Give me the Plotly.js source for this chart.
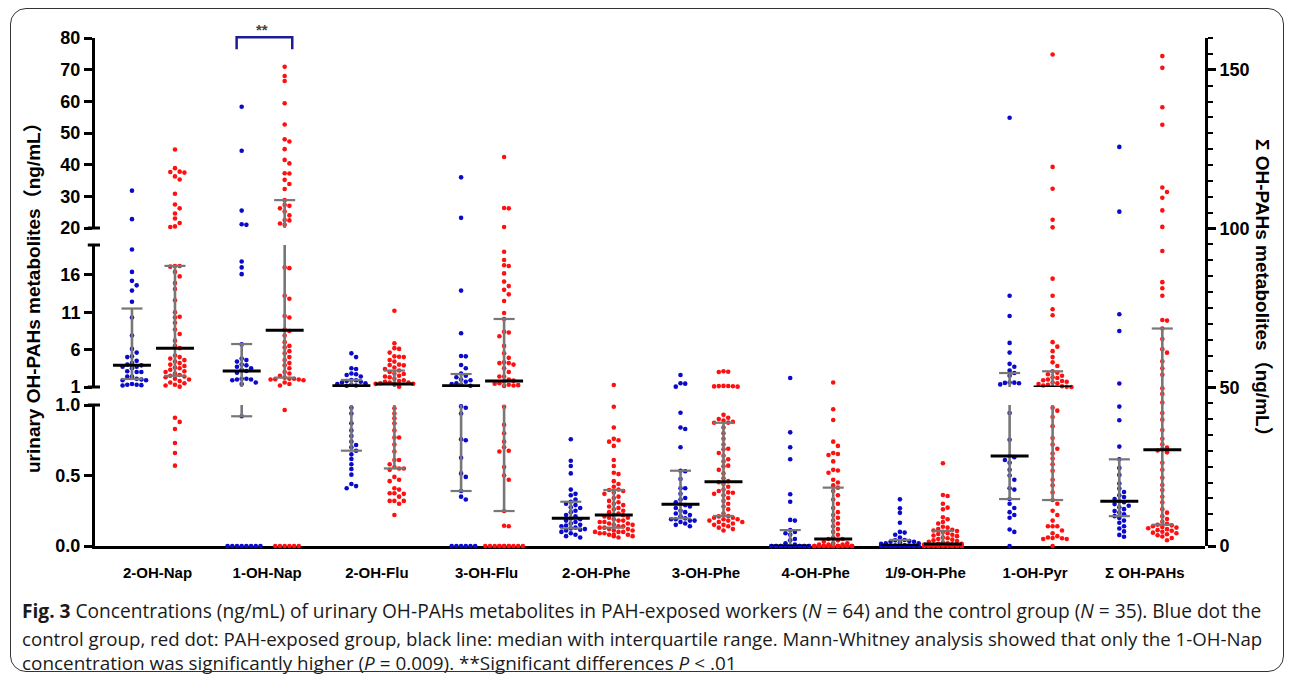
<!DOCTYPE html>
<html><head><meta charset="utf-8">
<script src="https://cdn.plot.ly/plotly-3.0.1.min.js"></script>
<style>
html,body{margin:0;padding:0;background:#fff;}
#wrap{position:relative;width:1290px;height:679px;overflow:hidden;background:#fff;}
#chart{position:absolute;left:0;top:0;width:1290px;height:679px;}
#frame{position:absolute;left:10px;top:8px;width:1274px;height:664px;border:1.5px solid #333;border-radius:16px;pointer-events:none;box-sizing:border-box;}
</style></head>
<body><div id="wrap"><div id="chart"></div><div id="frame"></div></div>
<script>
// ---------------- DATA (ng/mL) ----------------
const categories = ['2-OH-Nap','1-OH-Nap','2-OH-Flu','3-OH-Flu','2-OH-Phe','3-OH-Phe','4-OH-Phe','1/9-OH-Phe','1-OH-Pyr','Σ OH-PAHs'];

// control group (N = 35)
const nap2_ctrl = [31.8,22.8,19.4,16.4,15.2,14.6,13.9,12.4,10.3,7.9,6.1,5.6,5.1,5.0,4.5,4.2,4.0,3.9,3.7,3.7,3.5,3.1,3.0,3.0,2.4,2.4,2.1,2.0,1.9,1.9,1.4,1.3,1.3,1.25,1.2];
const nap1_ctrl = [58.3,44.4,25.5,21.2,21.0,17.8,17.0,16.1,6.7,4.8,4.6,4.4,4.0,3.9,3.7,3.5,3.3,3.14,2.9,2.1,2.1,2.0,2.0,1.9,1.6,1.4,0.92,0,0,0,0,0,0,0,0];
const flu2_ctrl = [5.5,5.0,3.5,3.4,2.8,2.7,2.6,2.4,1.94,1.9,1.8,1.7,1.6,1.5,1.4,1.3,1.2,1.17,0.98,0.94,0.87,0.82,0.78,0.74,0.716,0.70,0.676,0.65,0.617,0.58,0.546,0.506,0.44,0.425,0.41];
const flu3_ctrl = [36.0,23.2,13.9,8.2,5.15,5.1,3.95,3.5,2.8,2.5,2.3,2.0,1.9,1.7,1.5,1.4,1.3,1.17,0.99,0.98,0.94,0.757,0.75,0.626,0.515,0.49,0.39,0.35,0.33,0,0,0,0,0,0];
const phe2_ctrl = [0.757,0.605,0.567,0.515,0.40,0.37,0.36,0.33,0.314,0.30,0.29,0.275,0.27,0.25,0.24,0.22,0.21,0.196,0.19,0.18,0.17,0.16,0.15,0.145,0.14,0.13,0.125,0.12,0.115,0.11,0.10,0.09,0.08,0.07,0.06];
const phe3_ctrl = [2.6,1.5,1.45,1.05,0.945,0.84,0.83,0.70,0.534,0.53,0.475,0.41,0.41,0.37,0.34,0.33,0.31,0.296,0.29,0.28,0.27,0.25,0.24,0.23,0.22,0.21,0.196,0.19,0.19,0.18,0.18,0.17,0.16,0.15,0.14];
const phe4_ctrl = [2.2,0.806,0.70,0.615,0.367,0.314,0.185,0.18,0.113,0.10,0.09,0.08,0.05,0.04,0.02,0.01,0,0,0,0,0,0,0,0,0,0,0,0,0,0,0,0,0,0,0];
const phe19_ctrl = [0.331,0.267,0.235,0.165,0.10,0.095,0.08,0.06,0.043,0.04,0.035,0.03,0.03,0.025,0.02,0.02,0.015,0.005,0.004,0.003,0.002,0,0,0,0,0,0,0,0,0,0,0,0,0,0];
const pyr1_ctrl = [54.8,13.2,10.5,6.9,5.6,4.1,3.7,3.2,2.87,2.5,1.6,1.58,1.55,1.5,1.35,0.943,0.754,0.638,0.63,0.61,0.59,0.54,0.50,0.47,0.41,0.40,0.333,0.30,0.27,0.24,0.22,0.20,0.117,0.10,0];
const sum_ctrl = [125.7,105.3,73.0,67.7,51.2,43.9,39.6,31.3,27.3,24.6,22.4,19.7,18.1,17.0,16.0,15.4,14.8,14.1,13.8,13.2,12.7,12.2,11.6,11.0,10.5,10.0,9.4,8.8,8.0,7.3,6.2,5.5,4.6,3.5,2.9];

// PAH-exposed group (N = 64)
const nap2_exp = [44.8,38.9,37.8,37.7,37.5,36.3,35.3,30.8,27.4,26.2,24.6,23.0,21.6,20.5,20.3,17.2,17.2,17.1,16.4,15.8,14.9,14.1,12.6,11.0,10.4,10.3,9.6,8.7,8.1,7.2,6.5,6.2,5.2,5.0,4.8,4.6,4.4,4.2,4.0,3.8,3.6,3.5,3.3,3.1,3.0,2.8,2.6,2.5,2.4,2.3,2.1,2.0,1.8,1.6,1.5,1.3,1.2,1.05,0.91,0.88,0.83,0.73,0.66,0.57];
const nap1_exp = [70.9,68.0,66.4,59.4,52.7,48.0,47.3,44.9,41.5,40.4,37.3,37.2,35.2,33.9,32.3,28.8,27.3,27.0,26.2,25.2,24.0,22.5,22.4,21.4,21.0,17.0,16.9,13.2,12.8,10.5,10.3,8.7,8.5,7.9,7.0,6.5,6.3,5.8,5.5,5.0,4.6,4.2,3.9,3.5,3.0,2.8,2.5,2.25,2.1,2.1,2.05,2.0,2.0,1.9,1.6,1.4,1.2,0.965,0,0,0,0,0,0];
const flu2_exp = [11.2,6.85,6.2,6.1,5.6,5.1,5.05,5.0,4.6,4.4,4.0,3.95,3.9,3.6,3.4,3.2,3.0,2.8,2.74,2.5,2.4,2.3,2.1,1.9,1.8,1.7,1.6,1.58,1.5,1.45,1.43,1.42,1.38,1.05,0.977,0.94,0.906,0.87,0.82,0.77,0.77,0.72,0.67,0.61,0.61,0.58,0.56,0.55,0.55,0.54,0.49,0.47,0.46,0.41,0.40,0.374,0.374,0.37,0.35,0.32,0.32,0.32,0.30,0.22];
const flu3_exp = [42.4,26.3,26.2,20.3,19.1,18.0,17.3,17.2,16.2,15.1,14.5,14.0,13.4,12.5,10.9,10.1,8.4,8.3,7.8,6.5,5.5,4.9,4.3,4.2,4.2,4.0,3.5,3.0,2.4,2.4,2.0,1.85,1.75,1.5,1.45,1.3,1.25,1.2,1.13,0.988,0.86,0.80,0.74,0.70,0.676,0.67,0.56,0.50,0.47,0.248,0.144,0.14,0,0,0,0,0,0,0,0,0,0,0,0];
const phe2_exp = [1.27,0.988,0.84,0.76,0.75,0.74,0.71,0.61,0.567,0.52,0.51,0.46,0.44,0.42,0.40,0.397,0.39,0.38,0.37,0.35,0.34,0.32,0.31,0.30,0.29,0.28,0.27,0.26,0.25,0.24,0.23,0.222,0.218,0.21,0.20,0.20,0.19,0.18,0.18,0.17,0.17,0.16,0.16,0.15,0.15,0.14,0.14,0.13,0.13,0.12,0.12,0.11,0.11,0.10,0.10,0.10,0.09,0.09,0.08,0.08,0.08,0.07,0.07,0.06];
const phe3_exp = [3.1,3.05,3.0,1.15,1.13,1.12,1.1,1.08,1.05,0.93,0.91,0.90,0.89,0.88,0.875,0.874,0.84,0.80,0.76,0.72,0.69,0.686,0.66,0.64,0.615,0.60,0.57,0.565,0.54,0.515,0.48,0.46,0.452,0.44,0.42,0.40,0.39,0.38,0.378,0.37,0.36,0.34,0.32,0.30,0.28,0.26,0.23,0.213,0.21,0.20,0.20,0.19,0.19,0.18,0.18,0.17,0.17,0.16,0.15,0.15,0.14,0.13,0.12,0.11];
const phe4_exp = [1.6,0.97,0.894,0.74,0.71,0.66,0.652,0.645,0.60,0.54,0.535,0.52,0.47,0.45,0.43,0.414,0.39,0.36,0.33,0.30,0.27,0.24,0.22,0.20,0.18,0.16,0.14,0.12,0.10,0.08,0.06,0.05,0.05,0.04,0.03,0.02,0.02,0.01,0.01,0.01,0,0,0,0,0,0,0,0,0,0,0,0,0,0,0,0,0,0,0,0,0,0,0,0];
const phe19_exp = [0.587,0.362,0.355,0.30,0.272,0.26,0.204,0.19,0.17,0.16,0.137,0.13,0.12,0.115,0.11,0.106,0.10,0.09,0.085,0.08,0.075,0.07,0.06,0.055,0.05,0.045,0.04,0.035,0.03,0.025,0.02,0.015,0.015,0.012,0.01,0.01,0.01,0.008,0.008,0.006,0.005,0.005,0.004,0.003,0.002,0.002,0.001,0,0,0,0,0,0,0,0,0,0,0,0,0,0,0,0,0];
const pyr1_exp = [74.8,39.3,32.4,22.6,20.2,15.5,13.2,11.4,10.6,7.0,6.4,5.8,5.0,4.3,3.8,3.1,2.9,2.7,2.5,2.3,2.2,2.0,1.9,1.8,1.7,1.6,1.5,1.4,1.3,1.2,1.1,1.03,1.0,0.98,0.96,0.915,0.85,0.766,0.72,0.69,0.656,0.62,0.58,0.533,0.47,0.43,0.38,0.326,0.30,0.25,0.22,0.18,0.14,0.14,0.14,0.11,0.09,0.07,0.06,0.057,0.055,0.05,0.05,0];
const sum_exp = [154.3,150.6,138.2,132.7,112.9,111.5,109.7,105.7,100.5,92.9,83.1,81.2,78.8,71.2,71.0,68.5,65.2,62.0,60.9,58.2,56.0,53.9,49.7,47.9,45.2,41.9,39.8,36.5,33.8,32.0,31.0,30.5,30.1,29.5,26.2,24.0,21.5,19.2,17.6,15.5,13.8,11.6,10.5,9.4,8.5,7.6,7.0,6.7,6.5,6.2,6.0,5.8,5.6,5.3,5.0,4.8,4.5,4.2,4.0,3.7,3.4,3.0,2.5,1.8];

// median with interquartile range as drawn in the figure
const ctrlMedian = [3.9,3.14,1.17,1.17,0.196,0.296,0,0.005,0.638,14.1];
const ctrlQ1     = [2.07,0.92,0.676,0.39,0.125,0.196,0,0,0.333,9.4];
const ctrlQ3     = [11.5,6.75,1.94,2.74,0.314,0.534,0.113,0.043,2.87,27.3];
const expMedian  = [6.2,8.6,1.4,1.8,0.22,0.456,0.05,0.015,1.0,30.3];
const expQ1      = [2.5,2.25,0.55,0.248,0.13,0.213,0,0,0.326,6.7];
const expQ3      = [17.2,28.8,3.2,10.1,0.397,0.874,0.414,0.106,3.1,68.5];

// tick labels
const bottomTicks = [0,0.5,1.0], bottomTickText = ['0.0','0.5','1.0'];
const middleTicks = [1,6,11,16];
const topTicks = [20,30,40,50,60,70,80];

// ---------------- LAYOUT CONSTANTS ----------------
const W=1290,H=679,ML=95,MR=85,MT=38,MB=133;
const PW=W-ML-MR, PH=H-MT-MB;
const XR=[-0.533,9.585];
const PXU = PW/(XR[1]-XR[0]);
const OFF=0.196, MEDHW=0.173, CAPHW=0.096;
const BLUE='#0a0acc', RED='#ff1010', GRAY='#777777';
const segs=[
  {ax:'y', lo:0, hi:1, d:[0,141/PH]},
  {ax:'y2',lo:1, hi:20,d:[159/PH,301/PH]},
  {ax:'y3',lo:20,hi:80,d:[318/PH,1]}
];
const rseg={ax:'y4',lo:0,hi:160,d:[0,1]};
function segOf(v,right){ if(right) return rseg; if(v>=20) return segs[2]; if(v>=1) return segs[1]; return segs[0]; }
function pyOf(v,s){ return MT+PH*(1-(s.d[0]+(v-s.lo)/(s.hi-s.lo)*(s.d[1]-s.d[0]))); }

const ctrlSets=[nap2_ctrl,nap1_ctrl,flu2_ctrl,flu3_ctrl,phe2_ctrl,phe3_ctrl,phe4_ctrl,phe19_ctrl,pyr1_ctrl,sum_ctrl];
const expSets=[nap2_exp,nap1_exp,flu2_exp,flu3_exp,phe2_exp,phe3_exp,phe4_exp,phe19_exp,pyr1_exp,sum_exp];

// beeswarm offsets (pixels) computed from value positions
const STEP=4.7,HIT=4.5,KMAX=4;
function swarm(pys){
  const idx=pys.map((p,i)=>i).sort((a,b)=>pys[a]-pys[b]);
  const order=[0]; for(let k=1;k<=KMAX;k++){order.push(k,-k);}
  const placed=[],dx=new Array(pys.length);
  for(const i of idx){
    let best=0,bh=1e9;
    for(const k of order){
      const x=k*STEP; let h=0;
      for(const p of placed){ if(Math.abs(p.y-pys[i])<HIT && Math.abs(p.x-x)<HIT) h++; }
      if(h===0){best=x;bh=0;break;}
      if(h<bh){bh=h;best=x;}
    }
    dx[i]=best; placed.push({x:best,y:pys[i]});
  }
  return dx;
}

const groups=[];
for(let i=0;i<categories.length;i++){
  groups.push({c:i,vals:ctrlSets[i],off:-OFF,color:BLUE,med:ctrlMedian[i],q1:ctrlQ1[i],q3:ctrlQ3[i],right:i===categories.length-1});
  groups.push({c:i,vals:expSets[i],off:OFF,color:RED,med:expMedian[i],q1:expQ1[i],q3:expQ3[i],right:i===categories.length-1});
}

const pts={};
const vline={},caps={},meds={};
function push(store,ax,xs,ys){ if(!store[ax]) store[ax]={x:[],y:[]}; store[ax].x.push(...xs,null); store[ax].y.push(...ys,null); }
groups.forEach(g=>{
  const xc=g.c+g.off;
  const ss=g.vals.map(v=>segOf(v,g.right));
  const pys=g.vals.map((v,k)=>pyOf(v,ss[k]));
  const dx=swarm(pys);
  g.vals.forEach((v,k)=>{
    const key=g.color+'|'+ss[k].ax;
    if(!pts[key]) pts[key]={x:[],y:[],color:g.color,ax:ss[k].ax};
    pts[key].x.push(xc+dx[k]/PXU); pts[key].y.push(v);
  });
  const list=g.right?[rseg]:segs;
  list.forEach(s=>{
    const lo=Math.max(g.q1,s.lo),hi=Math.min(g.q3,s.hi);
    if(hi>lo) push(vline,s.ax,[xc,xc],[lo,hi]);
  });
  [g.q1,g.q3].forEach(q=>{ if(q>0){ const s=segOf(q,g.right); push(caps,s.ax,[xc-CAPHW,xc+CAPHW],[q,q]); }});
  const sm=segOf(g.med,g.right); push(meds,sm.ax,[xc-MEDHW,xc+MEDHW],[g.med,g.med]);
});

const traces=[];
Object.values(pts).forEach(p=>traces.push({type:'scatter',mode:'markers',x:p.x,y:p.y,xaxis:'x',yaxis:p.ax,cliponaxis:false,hoverinfo:'skip',marker:{size:4.6,color:p.color,line:{width:0}}}));
const addLines=(store,color,width)=>Object.keys(store).forEach(ax=>traces.push({type:'scatter',mode:'lines',x:store[ax].x,y:store[ax].y,xaxis:'x',yaxis:ax,cliponaxis:false,hoverinfo:'skip',connectgaps:false,line:{color:color,width:width}}));
addLines(vline,GRAY,2.6);
addLines(caps,GRAY,2.2);
addLines(meds,'#000',3);

const FONT='"Liberation Sans", Arial, "Noto Sans CJK SC", sans-serif';
const tf={family:FONT,size:18,color:'#000',weight:700};
const ycommon={anchor:'x',showline:true,linewidth:3,linecolor:'#000',ticks:'outside',ticklen:8,tickwidth:3,tickcolor:'#000',tickfont:tf,showgrid:false,zeroline:false,fixedrange:true,tickmode:'array'};
const capFont=s=>({family:'"Open Sans", sans-serif',size:s,color:'#1a1a1a'});
const layout={
  width:W,height:H,autosize:false,showlegend:false,
  margin:{l:ML,r:MR,t:MT,b:MB,pad:0},
  paper_bgcolor:'#fff',plot_bgcolor:'rgba(0,0,0,0)',
  xaxis:{domain:[0,1],range:XR,anchor:'y',showline:true,linewidth:3,linecolor:'#000',ticks:'',tickmode:'array',tickvals:categories.map((c,i)=>i),ticktext:categories,tickfont:{family:FONT,size:15,color:'#000',weight:700},showgrid:false,zeroline:false,fixedrange:true,layer:'below traces',ticklabelshift:4,ticklabelstandoff:11},
  yaxis:Object.assign({},ycommon,{domain:segs[0].d,range:[0,1],tickvals:bottomTicks,ticktext:bottomTickText}),
  yaxis2:Object.assign({},ycommon,{domain:segs[1].d,range:[1,20],tickvals:middleTicks,ticktext:middleTicks.map(String)}),
  yaxis3:Object.assign({},ycommon,{domain:segs[2].d,range:[20,80],tickvals:topTicks,ticktext:topTicks.map(String)}),
  yaxis4:Object.assign({},ycommon,{domain:[0,1],range:[0,160],side:'right',tickmode:'linear',tick0:0,dtick:50,minor:{tickmode:'linear',tick0:0,dtick:5,ticks:'outside',ticklen:5,tickwidth:2,tickcolor:'#000'}}),
  shapes:[
    {type:'line',xref:'paper',yref:'paper',x0:-0.0065,x1:0.0045,y0:segs[0].d[1],y1:segs[0].d[1],line:{color:'#000',width:3}},
    {type:'line',xref:'paper',yref:'paper',x0:-0.0065,x1:0.0045,y0:segs[1].d[0],y1:segs[1].d[0],line:{color:'#000',width:3}},
    {type:'line',xref:'paper',yref:'paper',x0:-0.0065,x1:0.0045,y0:segs[1].d[1],y1:segs[1].d[1],line:{color:'#000',width:3}},
    {type:'line',xref:'paper',yref:'paper',x0:-0.0065,x1:0.0045,y0:segs[2].d[0],y1:segs[2].d[0],line:{color:'#000',width:3}},
    {type:'path',xref:'x',yref:'paper',path:'M 0.758 0.9778 L 0.758 1.0014 L 1.265 1.0014 L 1.265 0.9778',line:{color:'#1c1c96',width:2.5}}
  ],
  annotations:[
    {xref:'x',yref:'paper',x:0.986,y:1.016,text:'**',showarrow:false,font:{family:FONT,size:15,color:'#444',weight:700},xanchor:'center',yanchor:'middle'},
    {xref:'paper',yref:'paper',x:(33-ML)/PW,y:(MT+PH-293)/PH,text:'urinary OH-PAHs metabolites（ng/mL）',textangle:-90,showarrow:false,font:{family:FONT,size:19,color:'#000',weight:700},xanchor:'center',yanchor:'middle'},
    {xref:'paper',yref:'paper',x:(1263-ML)/PW,y:(MT+PH-292)/PH,text:'Σ OH-PAHs metabolites（ng/mL）',textangle:90,showarrow:false,font:{family:FONT,size:19,color:'#000',weight:700},xanchor:'center',yanchor:'middle'},
    {xref:'paper',yref:'paper',x:(20-ML)/PW,y:(MT+PH-611)/PH,xanchor:'left',yanchor:'middle',showarrow:false,align:'left',font:capFont(19.15),
     text:'<b>Fig. 3</b> Concentrations (ng/mL) of urinary OH-PAHs metabolites in PAH-exposed workers (<i>N</i> = 64) and the control group (<i>N</i> = 35). Blue dot the'},
    {xref:'paper',yref:'paper',x:(20-ML)/PW,y:(MT+PH-638)/PH,xanchor:'left',yanchor:'middle',showarrow:false,align:'left',font:capFont(18.65),
     text:'control group, red dot: PAH-exposed group, black line: median with interquartile range. Mann-Whitney analysis showed that only the 1-OH-Nap'},
    {xref:'paper',yref:'paper',x:(20-ML)/PW,y:(MT+PH-663)/PH,xanchor:'left',yanchor:'middle',showarrow:false,align:'left',font:capFont(18.9),
     text:'concentration was significantly higher (<i>P</i> = 0.009). **Significant differences <i>P</i> &lt; .01'}
  ]
};
Plotly.newPlot('chart',traces,layout,{staticPlot:true,displayModeBar:false});
</script></body></html>
